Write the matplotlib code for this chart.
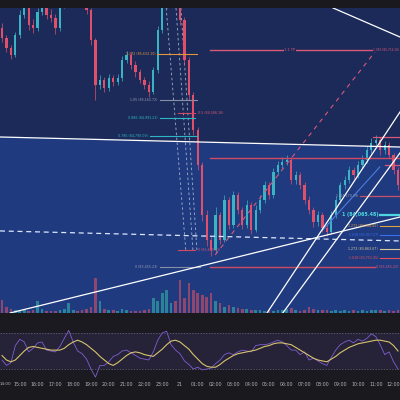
import matplotlib
matplotlib.use("Agg")
import matplotlib.pyplot as plt
from matplotlib.patches import Polygon
from matplotlib.transforms import blended_transform_factory

# 15-minute candles, 14:00 (20th) -> 12:15 (21st)
first_open = 85900
closes = [85797, 85694, 85622, 85828, 86033, 86238, 85930, 85899, 86064, 86136,
          86033, 86002, 85899, 86136, 86290, 86392, 86444, 86392, 86290, 86084,
          85776, 85314, 85365, 85283, 85386, 85345, 85386, 85571, 85622, 85519,
          85448, 85365, 85314, 85242, 85468, 85879, 86136, 86341, 86392, 86290,
          85982, 85571, 85211, 84852, 84492, 83979, 83722, 83620, 83979, 83722,
          84133, 83876, 84184, 84030, 83876, 84082, 83825, 84030, 84133, 84287,
          84184, 84421, 84492, 84523, 84544, 84338, 84390, 84287, 84133, 84030,
          83907, 83979, 83845, 83804, 83979, 84133, 84287, 84338, 84441, 84390,
          84492, 84544, 84646, 84718, 84749, 84646, 84698, 84595, 84441, 84287]
highs = [85950, 85830, 85720, 85860, 86080, 86300, 86260, 85990, 86100, 86200,
         86170, 86090, 86040, 86180, 86340, 86440, 86500, 86480, 86430, 86320,
         86110, 85800, 85420, 85400, 85430, 85420, 85430, 85610, 85660, 85650,
         85560, 85480, 85400, 85350, 85500, 85920, 86190, 86400, 86450, 86430,
         86320, 86010, 85600, 85240, 84880, 84520, 84030, 83760, 84060, 84010,
         84180, 84160, 84230, 84220, 84060, 84130, 84110, 84080, 84180, 84330,
         84320, 84460, 84530, 84570, 84600, 84570, 84430, 84420, 84320, 84170,
         84060, 84020, 84010, 83880, 84020, 84170, 84320, 84380, 84480, 84470,
         84530, 84590, 84690, 84770, 84800, 84780, 84740, 84730, 84620, 84470]
lows = [85760, 85650, 85580, 85600, 85800, 86000, 85880, 85850, 85870, 86030,
        85990, 85960, 85840, 85870, 86100, 86260, 86360, 86340, 86250, 86040,
        85720, 85160, 85270, 85240, 85250, 85300, 85310, 85360, 85540, 85480,
        85400, 85330, 85270, 85190, 85220, 85440, 85850, 86100, 86300, 86250,
        85930, 85520, 85160, 84800, 84440, 83920, 83660, 83560, 83590, 83680,
        83700, 83830, 83850, 83990, 83830, 83850, 83780, 83800, 84000, 84100,
        84140, 84150, 84390, 84460, 84490, 84300, 84300, 84250, 84090, 83990,
        83860, 83870, 83800, 83760, 83780, 83950, 84100, 84250, 84310, 84350,
        84360, 84460, 84510, 84620, 84690, 84600, 84610, 84560, 84400, 84240]
volumes = [130, 60, 40, 30, 30, 30, 25, 30, 120, 40,
           25, 20, 20, 30, 40, 100, 30, 25, 30, 40,
           60, 350, 120, 40, 30, 30, 25, 40, 30, 25,
           20, 25, 30, 40, 150, 120, 200, 230, 100, 120,
           330, 150, 300, 230, 200, 180, 160, 200, 120, 100,
           60, 80, 60, 50, 40, 40, 30, 35, 30, 25,
           30, 25, 30, 35, 40, 50, 30, 25, 35, 60,
           40, 30, 35, 30, 25, 30, 25, 30, 25, 30,
           25, 30, 25, 30, 35, 30, 25, 30, 25, 30]
rsi = [40, 34, 37, 56, 63, 60, 49, 53, 59, 60, 51, 50, 49, 55, 64, 73, 60, 50,
       47, 41, 30, 21, 34, 34, 38, 44, 46, 50, 51, 48, 45, 42, 41, 40, 49, 62,
       70, 72, 57, 51, 47, 39, 35, 30, 32, 29, 30, 31, 36, 40, 46, 48, 46, 49,
       51, 50, 49, 56, 57, 57, 58, 60, 62, 60, 56, 51, 51, 46, 49, 40, 42, 39,
       36, 34, 43, 51, 57, 60, 62, 59, 63, 61, 64, 69, 66, 57, 46, 49, 38, 30]
rsi_ma = [45, 40, 38, 40, 45, 50, 54, 55, 54, 53, 52, 51, 51, 51, 53, 57, 60, 62,
          60, 57, 53, 49, 44, 40, 36, 34, 37, 41, 45, 48, 49, 48, 46, 45, 44, 48,
          52, 57, 61, 62, 60, 56, 52, 46, 41, 36, 33, 32, 32, 35, 39, 42, 45, 47,
          48, 49, 50, 51, 53, 55, 56, 58, 59, 59, 58, 57, 54, 51, 48, 45, 42, 40,
          39, 38, 41, 44, 48, 51, 54, 56, 58, 59, 60, 61, 62, 62, 61, 60, 56, 50]
time_labels = ["14:00", "15:00", "16:00", "17:00", "18:00", "19:00", "20:00",
               "21:00", "22:00", "23:00", "21", "01:00", "02:00", "03:00",
               "04:00", "05:00", "06:00", "07:00", "08:00", "09:00", "10:00",
               "11:00", "12:00"]

# drawing-tool anchors: (candle index, price)
box_edge = [(-0.45, 84780), (89.44, 84677)]
white_lines = [
    [(-0.45, 84780), (89.44, 84677)],
    [(74.4, 86105), (89.44, 85807)],
    [(59.55, 82972), (89.44, 85037)],
    [(63.1, 82972), (89.44, 84616)],
    [(1.8, 82972), (89.44, 83958)],
]
dashed_level = [(-0.45, 83815), (89.44, 83712)]
slanted_dashes = [[(36.9, 86105), (41.3, 83620)],
                  [(39.1, 86105), (42.9, 83620)],
                  [(40.2, 86105), (43.8, 83620)]]
blue_trend = [(72.1, 83825), (84.9, 84472)]
red_diag = [(47.9, 83568), (83.8, 85653)]

# (price, x0, x1, colour, lw)
levels = [
    (85674, 46.75, 83.8, "#d9587a", 1.0),
    (84564, 46.75, 89.44, "#d04a62", 1.0),
    (83445, 46.75, 83.8, "#d04a62", 1.0),
    (83620, 39.5, 43.4, "#d04a62", 0.8),
    (85026, 39.5, 43.4, "#d04a62", 0.8),
    (85632, 34.8, 43.8, "#e0963c", 0.8),
    (85160, 35.5, 43.8, "#8a8fa8", 0.8),
    (84975, 35.5, 43.4, "#2fb6c6", 0.8),
    (84790, 33.3, 43.8, "#2fb6c6", 0.8),
    (83445, 35.5, 44.5, "#8a8fa8", 0.8),
    (84174, 80.4, 89.44, "#c85068", 0.9),
    (83979, 84.9, 89.44, "#4fd6e0", 1.6),
    (83866, 84.9, 89.44, "#e0a040", 0.8),
    (83774, 84.9, 89.44, "#3c6ef0", 0.8),
    (83630, 84.9, 89.44, "#d8c8a0", 0.8),
    (83537, 84.9, 89.44, "#e05060", 0.8),
    (84780, 83.4, 89.44, "#d9587a", 0.9),
    (84492, 86.1, 89.44, "#d9587a", 0.9),
]

# (x, price, text, colour, ha)
fib_labels = [
    (34.6, 85632, "1.272 (85,632.10)", "#e0963c", "right"),
    (35.0, 85160, "1.05 (85,163.72)", "#9a9fb8", "right"),
    (35.0, 84975, "0.886 (84,991.21)", "#2fb6c6", "right"),
    (32.8, 84790, "0.786 (84,790.09)", "#2fb6c6", "right"),
    (44.0, 85026, "0.5 (84,586.16)", "#d9587a", "left"),
    (35.0, 83445, "0 (83,455.23)", "#9a9fb8", "right"),
    (44.0, 83620, "0 (83,620.21)", "#d9587a", "left"),
    (84.0, 83445, "0 (83,455.23)", "#d9587a", "left"),
    (80.0, 84174, "1 (84,270.39)", "#9a9fb8", "right"),
    (84.5, 83866, "1.272 (83,968.45)", "#e0a040", "right"),
    (84.5, 83774, "1.618 (83,917.27)", "#3c6ef0", "right"),
    (84.5, 83630, "1.272 (83,863.67)", "#d8c8a0", "right"),
    (84.5, 83537, "1.618 (83,751.45)", "#e05060", "right"),
]

UP, DOWN = "#3bb3c3", "#e0506a"
NAVY, LIGHT = "#1b2a58", "#1f3a7e"

fig = plt.figure(figsize=(4, 4), dpi=100, facecolor="#19191e")
rect = [0, 0.2175, 1, 0.7625]
ax_vol = fig.add_axes(rect, facecolor=NAVY)
ax = fig.add_axes(rect, facecolor="none")
ax_rsi = fig.add_axes([0, 0.05, 1, 0.155], facecolor="#1b1a21")

xlim = (-0.45, 89.44)
ylim = (82972, 86105)
ax.set_xlim(xlim)
ax.set_ylim(ylim)
ax_vol.set_xlim(xlim)
ax_vol.set_ylim(0, 3050)

# lighter box below the white line
ax_vol.add_patch(Polygon([box_edge[0], box_edge[1], (xlim[1], ylim[0]), (xlim[0], ylim[0])],
                         closed=True, color=LIGHT, lw=0, transform=ax.transData))

idx = list(range(len(closes)))
opens = [first_open] + closes[:-1]
cols = [UP if c >= o else DOWN for o, c in zip(opens, closes)]
vcols = ["#2f8f9d" if c == UP else "#a54a6c" for c in cols]
ax_vol.bar(idx, volumes, width=0.6, color=vcols, alpha=0.85, lw=0)

ax.vlines(idx, lows, highs, colors=cols, lw=0.5, zorder=3)
ax.bar(idx, [max(abs(c - o), 8) for o, c in zip(opens, closes)],
       bottom=[min(o, c) for o, c in zip(opens, closes)],
       width=0.5, color=cols, lw=0, zorder=3)

for seg in slanted_dashes:
    ax.plot(*zip(*seg), color="#c8d0e0", lw=0.6, ls=(0, (3, 3)), alpha=0.8, zorder=2)
for p, x0, x1, c, lw in levels:
    ax.plot([x0, x1], [p, p], color=c, lw=lw, zorder=4)
ax.plot(*zip(*red_diag), color="#d9587a", lw=0.8, ls=(0, (4, 4)), zorder=4)
ax.plot(*zip(*blue_trend), color="#4a7fe0", lw=0.8, zorder=4)
ax.plot(*zip(*dashed_level), color="#dce6ff", lw=0.9, ls=(0, (4, 3)), zorder=5)
for seg in white_lines:
    ax.plot(*zip(*seg), color="white", lw=0.9, zorder=5)

for x, p, t, c, ha in fib_labels:
    ax.text(x, p, t, color=c, fontsize=2.3, ha=ha, va="center", zorder=6)
ax.text(64.7, 85674, "1:1 TP", color="#d9587a", fontsize=2.6, ha="center", va="center",
        zorder=6, bbox=dict(facecolor=NAVY, edgecolor="none", pad=0.6))
ax.text(89.3, 85674, "1.383 (85,716.16)", color="#d9587a", fontsize=2.1, ha="right",
        va="center", zorder=6, bbox=dict(facecolor=NAVY, edgecolor="none", pad=0.3))
ax.text(84.5, 83979, "1 (84,065.48)", color="#4fd6e0", fontsize=3.4, ha="right",
        va="center", fontweight="bold", zorder=6)

for a in (ax, ax_vol):
    a.set_xticks([])
    a.set_yticks([])
    for s in a.spines.values():
        s.set_visible(False)

# RSI panel
ax_rsi.set_xlim(xlim)
ax_rsi.set_ylim(17.78, 86.67)
ax_rsi.axhspan(30, 70, color="#262238", lw=0)
ax_rsi.axhline(70, color="#6a6a80", lw=0.5, ls=(0, (2, 2)))
ax_rsi.axhline(30, color="#6a6a80", lw=0.5, ls=(0, (2, 2)))
ax_rsi.plot(idx, rsi, color="#7e5fd0", lw=0.6)
ax_rsi.plot(idx, rsi_ma, color="#d7c36b", lw=0.8)
ax_rsi.set_yticks([])
ax_rsi.set_xticks(idx[4::4])
ax_rsi.set_xticklabels(time_labels[1:], fontsize=3.4, color="#b2b5be")
ax_rsi.tick_params(axis="x", length=0, pad=1.5)
trans = blended_transform_factory(ax_rsi.transData, ax_rsi.transAxes)
ax_rsi.text(xlim[0], -0.065, time_labels[0], transform=trans, fontsize=3.0,
            color="#b2b5be", ha="left", va="center", clip_on=False)
for s in ax_rsi.spines.values():
    s.set_visible(False)

fig.savefig("out.png", dpi=100, facecolor=fig.get_facecolor())
